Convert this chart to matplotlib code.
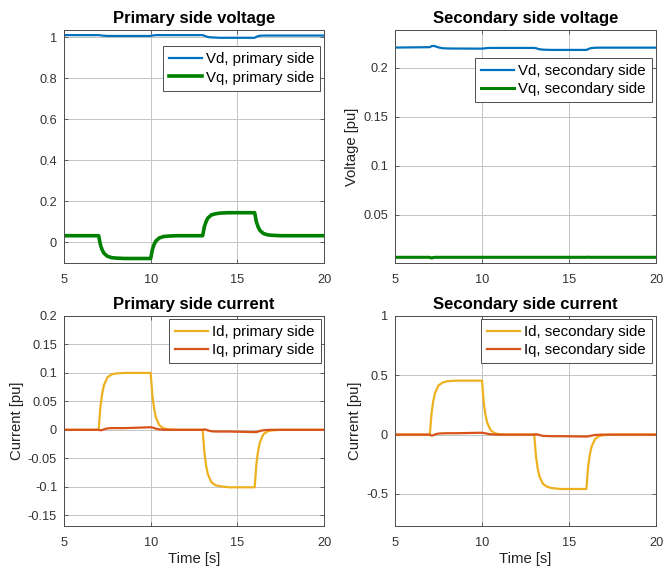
import matplotlib
matplotlib.use("Agg")
import matplotlib.pyplot as plt

plt.rcParams['font.family'] = ['Liberation Sans', 'DejaVu Sans']

# Simulation time samples [s]
t = [5, 7, 7.1, 7.2, 7.3, 7.5, 7.75, 8, 8.5,
     10, 10.1, 10.2, 10.3, 10.5, 10.75, 11, 11.5,
     13, 13.1, 13.2, 13.3, 13.5, 13.75, 14, 14.5,
     16, 16.1, 16.2, 16.3, 16.5, 16.75, 17, 17.5, 20]

# Primary side voltage [pu]
vd_pri = [1.010, 1.010, 1.009, 1.008, 1.007, 1.006, 1.006, 1.006, 1.006,
          1.006, 1.008, 1.009, 1.010, 1.010, 1.010, 1.010, 1.010,
          1.010, 1.007, 1.004, 1.001, 0.999, 0.998, 0.997, 0.997,
          0.997, 1.002, 1.005, 1.007, 1.008, 1.008, 1.008, 1.008, 1.008]
vq_pri = [0.033, 0.033, -0.011, -0.036, -0.052, -0.067, -0.074, -0.076, -0.078,
          -0.078, -0.034, -0.009, 0.007, 0.022, 0.029, 0.031, 0.033,
          0.033, 0.078, 0.102, 0.119, 0.134, 0.140, 0.143, 0.145,
          0.145, 0.100, 0.076, 0.059, 0.044, 0.037, 0.035, 0.033, 0.033]

# Secondary side voltage [pu]
vd_sec = [0.2204, 0.2208, 0.2218, 0.2221, 0.2218, 0.2205, 0.2197, 0.2195, 0.2194,
          0.2193, 0.2195, 0.2197, 0.2199, 0.2200, 0.2200, 0.2200, 0.2200,
          0.2200, 0.2197, 0.2192, 0.2187, 0.2183, 0.2181, 0.2180, 0.2180,
          0.2180, 0.2188, 0.2195, 0.2199, 0.2202, 0.2203, 0.2203, 0.2203, 0.2203]
vq_sec = [0.0066, 0.0066, 0.0058, 0.0064, 0.0066, 0.0066, 0.0066, 0.0066, 0.0066,
          0.0066, 0.0066, 0.0066, 0.0066, 0.0066, 0.0066, 0.0066, 0.0066,
          0.0066, 0.0066, 0.0066, 0.0066, 0.0066, 0.0066, 0.0066, 0.0066,
          0.0066, 0.0068, 0.0066, 0.0066, 0.0066, 0.0066, 0.0066, 0.0066, 0.0066]

# Primary side current [pu]
id_pri = [0.0, 0.0, 0.040, 0.063, 0.078, 0.092, 0.0975, 0.099, 0.100,
          0.100, 0.060, 0.037, 0.022, 0.008, 0.0025, 0.001, 0.0,
          0.0, -0.040, -0.063, -0.078, -0.092, -0.0975, -0.099, -0.101,
          -0.101, -0.060, -0.037, -0.022, -0.008, -0.0025, -0.001, 0.0, 0.0]
iq_pri = [0.0, 0.0, -0.0008, -0.0004, 0.0008, 0.0025, 0.003, 0.003, 0.003,
          0.0045, 0.004, 0.003, 0.002, 0.0008, 0.0002, 0.0, 0.0,
          0.0, 0.0008, 0.0002, -0.001, -0.0025, -0.003, -0.003, -0.003,
          -0.004, -0.004, -0.003, -0.002, -0.0008, -0.0002, 0.0, 0.0, 0.0]

# Secondary side current [pu]
id_sec = [0.0, 0.0, 0.180, 0.285, 0.350, 0.415, 0.440, 0.450, 0.455,
          0.455, 0.270, 0.165, 0.100, 0.036, 0.011, 0.004, 0.0,
          0.0, -0.180, -0.285, -0.350, -0.415, -0.440, -0.450, -0.458,
          -0.458, -0.270, -0.165, -0.100, -0.036, -0.011, -0.004, 0.0, 0.0]
iq_sec = [0.0, 0.0, -0.008, -0.006, 0.002, 0.009, 0.011, 0.012, 0.012,
          0.016, 0.014, 0.011, 0.008, 0.003, 0.001, 0.0, 0.0,
          0.0, 0.004, 0.001, -0.004, -0.010, -0.012, -0.013, -0.013,
          -0.016, -0.015, -0.011, -0.008, -0.003, -0.001, 0.0, 0.0, 0.0]

x_ticks = [5, 10, 15, 20]

C_BLUE = '#0072BD'
C_GREEN = '#008000'
C_YELLOW = '#EDB120'
C_RED = '#D95319'
C_AX = '#4d4d4d'

W, H = 664, 572
fig = plt.figure(figsize=(W / 100, H / 100), dpi=100)


def make_axes(x0, y0, x1, y1):
    return fig.add_axes([x0 / W, 1 - y1 / H, (x1 - x0) / W, (y1 - y0) / H])


def style(ax, ylim, yticks, yticklabels, title, ylabel=None, xlabel=None):
    ax.set_xlim(5, 20)
    ax.set_ylim(*ylim)
    ax.set_xticks(x_ticks)
    ax.set_xticklabels([str(v) for v in x_ticks])
    ax.set_yticks(yticks)
    ax.set_yticklabels(yticklabels)
    ax.grid(True, color='#c4c4c4', linewidth=0.7)
    ax.set_axisbelow(True)
    for s in ax.spines.values():
        s.set_color(C_AX)
        s.set_linewidth(0.7)
    ax.tick_params(direction='in', length=3, width=0.6, top=True, right=True,
                   colors=C_AX, labelsize=9.2, labelcolor='#333333', pad=5)
    ax.tick_params(axis='x', pad=8)
    ax.set_title(title, fontsize=12, fontweight='bold', pad=5)
    if ylabel:
        ax.set_ylabel(ylabel, fontsize=10.7, color='#222222', labelpad=3)
    if xlabel:
        ax.set_xlabel(xlabel, fontsize=10.7, color='#222222', labelpad=2)


def legend(ax, anchor):
    lg = ax.legend(loc='upper right', bbox_to_anchor=anchor, fontsize=10.8,
                   frameon=True, fancybox=False, framealpha=1,
                   edgecolor=C_AX, handlelength=2.2, handletextpad=0.27,
                   borderpad=0.4, labelspacing=0.3, borderaxespad=0)
    lg.get_frame().set_linewidth(0.7)


# Primary side voltage
ax1 = make_axes(64, 30, 324, 263)
ax1.plot(t, vd_pri, color=C_BLUE, lw=1.6, label='Vd, primary side')
ax1.plot(t, vq_pri, color=C_GREEN, lw=2.6, label='Vq, primary side')
style(ax1, (-0.1, 1.035), [0, 0.2, 0.4, 0.6, 0.8, 1],
      ['0', '0.2', '0.4', '0.6', '0.8', '1'], 'Primary side voltage')
legend(ax1, (0.985, 0.931))

# Secondary side voltage
ax2 = make_axes(395, 30, 656, 263)
ax2.plot(t, vd_sec, color=C_BLUE, lw=1.6, label='Vd, secondary side')
ax2.plot(t, vq_sec, color=C_GREEN, lw=2.2, label='Vq, secondary side')
style(ax2, (0.0008, 0.2383), [0.05, 0.1, 0.15, 0.2],
      ['0.05', '0.1', '0.15', '0.2'], 'Secondary side voltage',
      ylabel='Voltage [pu]')
legend(ax2, (0.985, 0.88))

# Primary side current
ax3 = make_axes(64, 316, 324, 526)
ax3.plot(t, id_pri, color=C_YELLOW, lw=1.6, label='Id, primary side')
ax3.plot(t, iq_pri, color=C_RED, lw=1.6, label='Iq, primary side')
style(ax3, (-0.169, 0.2),
      [-0.15, -0.1, -0.05, 0, 0.05, 0.1, 0.15, 0.2],
      ['-0.15', '-0.1', '-0.05', '0', '0.05', '0.1', '0.15', '0.2'],
      'Primary side current', ylabel='Current [pu]', xlabel='Time [s]')
legend(ax3, (0.988, 0.986))

# Secondary side current
ax4 = make_axes(395, 316, 656, 526)
ax4.plot(t, id_sec, color=C_YELLOW, lw=1.6, label='Id, secondary side')
ax4.plot(t, iq_sec, color=C_RED, lw=1.6, label='Iq, secondary side')
style(ax4, (-0.77, 1.0), [-0.5, 0, 0.5, 1], ['-0.5', '0', '0.5', '1'],
      'Secondary side current', ylabel='Current [pu]', xlabel='Time [s]')
legend(ax4, (0.985, 0.986))

fig.savefig('out.png', dpi=100, facecolor='white')
